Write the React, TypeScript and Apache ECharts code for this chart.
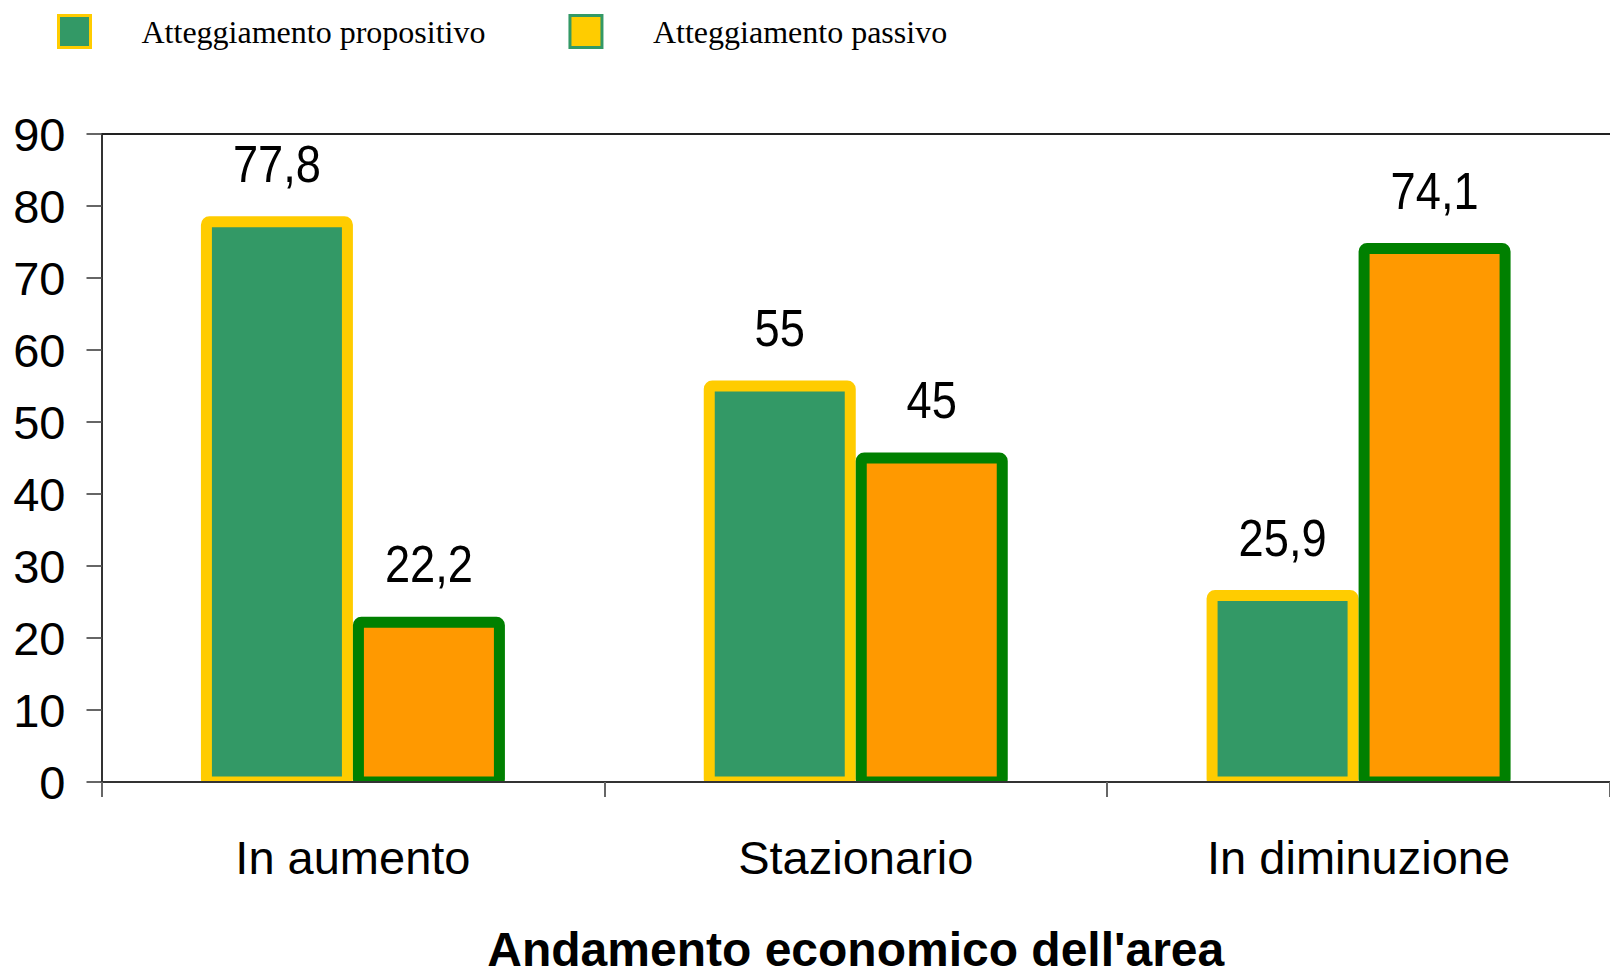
import React, { useEffect, useRef } from "react";
import * as echarts from "echarts";

const categories = ["In aumento", "Stazionario", "In diminuzione"];
const seriesNames = ["Atteggiamento propositivo", "Atteggiamento passivo"];
const propositivo = [77.8, 55, 25.9];
const passivo = [22.2, 45, 74.1];
const yTicks = { min: 0, max: 90, interval: 10 };
const xTitle = "Andamento economico dell'area";

const SANS = "'Liberation Sans', Arial, Helvetica, sans-serif";

export default function App() {
  const ref = useRef<HTMLDivElement>(null);
  useEffect(() => {
    document.body.style.margin = "0";
    const chart = echarts.init(ref.current!, undefined, { renderer: "svg" });
    const fmt = (v: number) => String(v).replace(".", ",");
    const barStyles = [
      { fill: "#339966", stroke: "#FFCC00" },
      { fill: "#FF9900", stroke: "#008000" },
    ];
    const makeRender = (sIdx: number) => (params: any, api: any) => {
      const ci = api.value(0);
      const v = api.value(1);
      const top = api.coord([ci, v]);
      const base = api.coord([ci, 0]);
      const outerW = 152;
      const sw = 11;
      const left = sIdx === 0 ? top[0] - outerW : top[0];
      return {
        type: "group",
        children: [
          {
            type: "rect",
            shape: { x: left + sw / 2, y: top[1], width: outerW - sw, height: base[1] - top[1], r: 3 },
            style: { fill: barStyles[sIdx].fill, stroke: barStyles[sIdx].stroke, lineWidth: sw },
          },
          {
            type: "text",
            x: left + outerW / 2,
            y: top[1] - 58,
            scaleX: 0.87,
            style: {
              text: fmt(v),
              fontFamily: SANS,
              fontSize: 52,
              fill: "#000",
              align: "center",
              verticalAlign: "middle",
            },
          },
        ],
      };
    };
    const toData = (arr: number[]) => arr.map((v, i) => [i, v]);
    chart.setOption({
      animation: false,
      backgroundColor: "#ffffff",
      legend: {
        left: 52,
        top: 9,
        itemWidth: 32,
        itemHeight: 32,
        itemGap: 83,
        icon: "rect",
        textStyle: {
          fontFamily: "'Liberation Serif', 'Times New Roman', serif",
          fontSize: 32,
          color: "#000",
          padding: [0, 0, 0, 46],
        },
        data: [
          { name: seriesNames[0], itemStyle: { color: "#339966", borderColor: "#FFCC00", borderWidth: 3 } },
          { name: seriesNames[1], itemStyle: { color: "#FFCC00", borderColor: "#339966", borderWidth: 3 } },
        ],
      },
      grid: { left: 101.5, right: 0, top: 134, bottom: 190, containLabel: false },
      xAxis: [
        {
          type: "category",
          data: categories,
          position: "bottom",
          axisLine: { show: true, lineStyle: { color: "#333", width: 2 } },
          axisTick: { show: true, length: 15, interval: 0, lineStyle: { color: "#666", width: 2 } },
          axisLabel: { fontFamily: SANS, fontSize: 47, color: "#000", margin: 52, interval: 0 },
          name: xTitle,
          nameLocation: "middle",
          nameGap: 143,
          nameTextStyle: { fontFamily: SANS, fontSize: 48, fontWeight: "bold", color: "#000" },
          z: 5,
        },
        {
          type: "category",
          data: categories,
          position: "top",
          axisLine: { show: true, lineStyle: { color: "#222", width: 2 } },
          axisTick: { show: false },
          axisLabel: { show: false },
        },
      ],
      yAxis: {
        type: "value",
        min: yTicks.min,
        max: yTicks.max,
        interval: yTicks.interval,
        axisLine: { show: true, lineStyle: { color: "#333", width: 2 } },
        axisTick: { show: true, length: 15, lineStyle: { color: "#666", width: 2 } },
        splitLine: { show: false },
        axisLabel: { fontFamily: SANS, fontSize: 47, color: "#000", margin: 36 },
      },
      series: [
        {
          name: seriesNames[0],
          type: "custom",
          renderItem: makeRender(0),
          clip: true,
          encode: { x: 0, y: 1 },
          itemStyle: { color: "#339966", borderColor: "#FFCC00" },
          data: toData(propositivo),
        },
        {
          name: seriesNames[1],
          type: "custom",
          renderItem: makeRender(1),
          clip: true,
          encode: { x: 0, y: 1 },
          itemStyle: { color: "#FF9900", borderColor: "#008000" },
          data: toData(passivo),
        },
      ],
    });
    return () => chart.dispose();
  }, []);
  return <div ref={ref} style={{ width: 1610, height: 978 }} />;
}
